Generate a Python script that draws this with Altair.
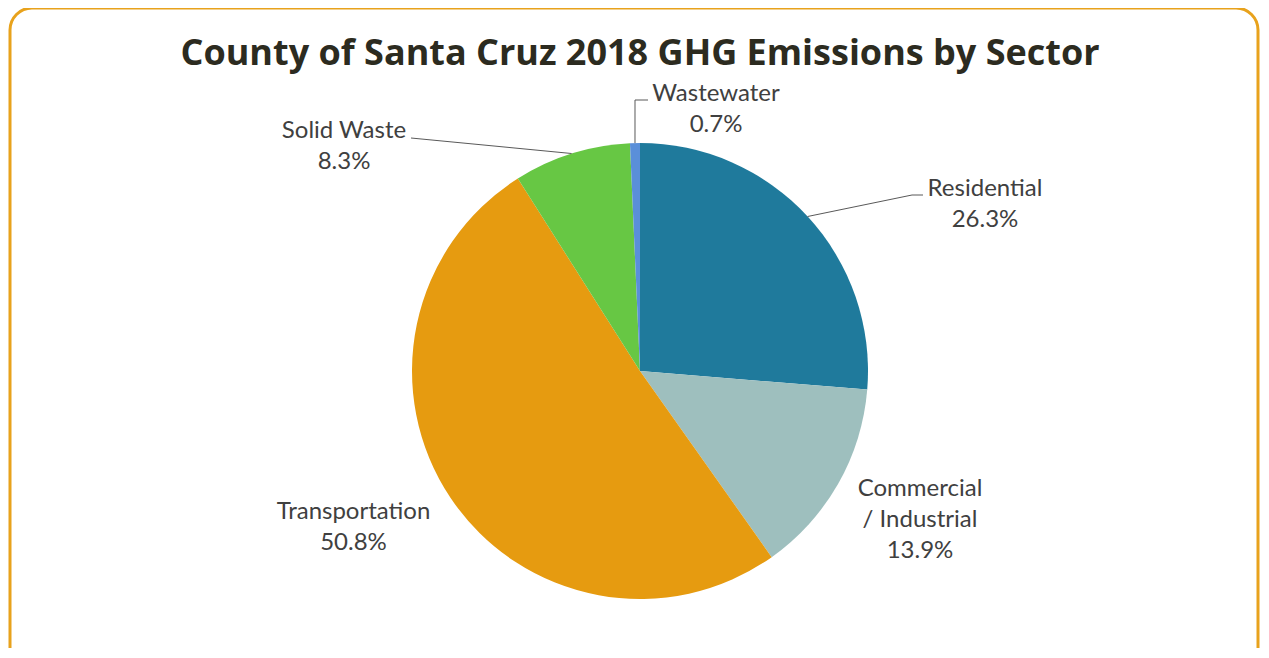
import math
import altair as alt
import pandas as pd

# ---- data ----
sectors = ["Residential", "Commercial / Industrial", "Transportation", "Solid Waste", "Wastewater"]
shares = [26.3, 13.9, 50.8, 8.3, 0.7]
label_lines = [["Residential", "26.3%"], ["Commercial", "/ Industrial", "13.9%"],
               ["Transportation", "50.8%"], ["Solid Waste", "8.3%"], ["Wastewater", "0.7%"]]
colors = ["#1f7a9c", "#9ebfbe", "#e69b10", "#67c744", "#5a8fd9"]
title_text = "County of Santa Cruz 2018 GHG Emissions by Sector"

# ---- layout (pixels within the view; view origin = page (8, 8)) ----
W, H = 1253, 640
CX, CY, R = 632, 363, 228
# centre of each label's first line
label_pos = {"Residential": (977, 181), "Commercial / Industrial": (912, 481),
             "Transportation": (345.5, 504), "Solid Waste": (336, 123), "Wastewater": (708, 86)}
# leader elbow / end points (after the start on the slice edge)
leader_pts = {"Residential": [(904, 187), (915, 187)],
              "Solid Waste": [(403, 130)],
              "Wastewater": [(627, 92), (640, 92)]}

pie_df = pd.DataFrame({"sector": sectors, "share": shares, "order": list(range(len(sectors)))})

lab_df = pd.DataFrame({
    "sector": sectors,
    "text": label_lines,
    "x": [label_pos[s][0] for s in sectors],
    "y": [label_pos[s][1] for s in sectors],
})

# leader lines start at the mid-angle of each slice on the pie edge
rows = []
total = sum(shares)
cum = 0.0
for s, v in zip(sectors, shares):
    mid = (cum + v / 2) / total * 2 * math.pi
    cum += v
    if s in leader_pts:
        pts = [(CX + R * math.sin(mid), CY - R * math.cos(mid))] + leader_pts[s]
        for i, (px, py) in enumerate(pts):
            rows.append({"sector": s, "i": i, "x": px, "y": py})
lead_df = pd.DataFrame(rows)

color_scale = alt.Scale(domain=sectors, range=colors)

pie = alt.Chart(pie_df).mark_arc(radius=R).encode(
    theta=alt.Theta("share:Q", stack=True),
    color=alt.Color("sector:N", scale=color_scale, legend=None),
    order=alt.Order("order:Q"),
    x=alt.value(CX), y=alt.value(CY),
)

leaders = alt.Chart(lead_df).mark_line(color="#595959", strokeWidth=1).encode(
    x=alt.X("x:Q", scale=None), y=alt.Y("y:Q", scale=None),
    detail="sector:N", order="i:Q",
)

labels = alt.Chart(lab_df).mark_text(
    font="Lato", fontSize=24, color="#404040", lineHeight=31, align="center", baseline="middle"
).encode(x=alt.X("x:Q", scale=None), y=alt.Y("y:Q", scale=None), text="text")

title = alt.Chart(pd.DataFrame({"t": [title_text]})).mark_text(
    font="Open Sans", fontSize=36, fontWeight="bold", color="#2c2b20", align="center", baseline="alphabetic"
).encode(x=alt.value(632), y=alt.value(57), text="t:N")

frame = alt.Chart(pd.DataFrame({"f": [0]})).mark_rect(
    cornerRadius=22, fillOpacity=0, stroke="#e8a21c", strokeWidth=3
).encode(x=alt.value(2), x2=alt.value(1250), y=alt.value(0), y2=alt.value(700))

chart = alt.layer(pie, leaders, labels, title, frame).properties(
    width=W, height=H, padding=0,
    autosize=alt.AutoSizeParams(type="none"),
).configure_view(strokeWidth=0)

chart.save("out.html", embed_options={"renderer": "svg", "actions": False})
